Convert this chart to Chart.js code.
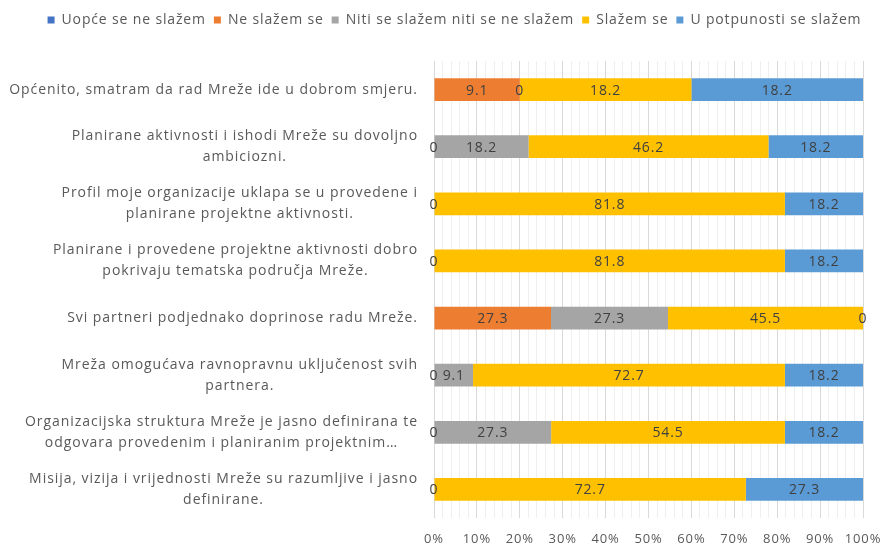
<!DOCTYPE html>
<html>
<head>
<meta charset="utf-8">
<script src="https://cdn.jsdelivr.net/npm/chart.js@4/dist/chart.umd.min.js"></script>
<style>
    html, body { margin: 0; padding: 0; background: #fff; }
    #wrap { width: 885px; height: 548px; }
</style>
</head>
<body>
<div id="wrap"><canvas id="surveyChart"></canvas></div>
<script>
// --- Data ---
const questions = [
    ['Općenito, smatram da rad Mreže ide u dobrom smjeru.'],
    ['Planirane aktivnosti i ishodi Mreže su dovoljno', 'ambiciozni.'],
    ['Profil moje organizacije uklapa se u provedene i', 'planirane projektne aktivnosti.'],
    ['Planirane i provedene projektne aktivnosti dobro', 'pokrivaju tematska područja Mreže.'],
    ['Svi partneri podjednako doprinose radu Mreže.'],
    ['Mreža omogućava ravnopravnu uključenost svih', 'partnera.'],
    ['Organizacijska struktura Mreže je jasno definirana te', 'odgovara provedenim i planiranim projektnim…'],
    ['Misija, vizija i vrijednosti Mreže su razumljive i jasno', 'definirane.']
];
const answerNames = ['Uopće se ne slažem', 'Ne slažem se', 'Niti se slažem niti se ne slažem', 'Slažem se', 'U potpunosti se slažem'];
const uopceSeNeSlazem = [null, 0, 0, 0, null, 0, 0, 0];
const neSlazemSe = [9.1, null, null, null, 27.3, null, null, null];
const nitiNiti = [0, 18.2, null, null, 27.3, 9.1, 27.3, null];
const slazemSe = [18.2, 46.2, 81.8, 81.8, 45.5, 72.7, 54.5, 72.7];
const uPotpunosti = [18.2, 18.2, 18.2, 18.2, 0, 18.2, 18.2, 27.3];
const colors = ['#4472C4', '#ED7D31', '#A5A5A5', '#FFC000', '#5B9BD5'];
const xTicks = [0, 10, 20, 30, 40, 50, 60, 70, 80, 90, 100];

(function () {
    const FONT = '"Open Sans", sans-serif';
    const SPACING = '0.85px';
    const series = [uopceSeNeSlazem, neSlazemSe, nitiNiti, slazemSe, uPotpunosti];

    // 100% stacked: each row is scaled to its own total
    const rowTotals = questions.map((q, i) => series.reduce((s, arr) => s + (arr[i] || 0), 0));
    function toPercent(arr) {
        return arr.map((v, i) => (v == null ? null : v / rowTotals[i] * 100));
    }

    const datasets = series.map((arr, k) => ({
        label: answerNames[k],
        data: toPercent(arr),
        raw: arr,
        backgroundColor: colors[k],
        borderWidth: 0,
        barPercentage: 0.4,
        categoryPercentage: 1
    }));

    // --- Plugins ---
    // Excel-like loose text: spacing has to be set before measuring and before drawing
    const letterSpacing = {
        id: 'letterSpacing',
        beforeLayout(chart) { chart.ctx.letterSpacing = SPACING; },
        beforeDraw(chart) { chart.ctx.letterSpacing = SPACING; }
    };

    const valueLabels = {
        id: 'valueLabels',
        afterDatasetsDraw(chart) {
            const ctx = chart.ctx;
            ctx.save();
            ctx.font = '14px ' + FONT;
            ctx.fillStyle = '#404040';
            ctx.textAlign = 'center';
            ctx.textBaseline = 'middle';
            chart.data.datasets.forEach((ds, k) => {
                const meta = chart.getDatasetMeta(k);
                meta.data.forEach((bar, i) => {
                    const v = ds.raw[i];
                    if (v == null) return;
                    ctx.fillText(String(v), (bar.x + bar.base) / 2, bar.y + 1);
                });
            });
            ctx.restore();
        }
    };

    const questionLabels = {
        id: 'questionLabels',
        afterDraw(chart) {
            const ctx = chart.ctx;
            const yScale = chart.scales.y;
            const right = chart.chartArea.left - 16;
            ctx.save();
            ctx.font = '14px ' + FONT;
            ctx.letterSpacing = '0.95px';
            ctx.fillStyle = '#595959';
            ctx.textAlign = 'center';
            ctx.textBaseline = 'middle';
            questions.forEach((lines, i) => {
                const y = yScale.getPixelForValue(i);
                const w = Math.max(...lines.map(l => ctx.measureText(l).width));
                const cx = right - w / 2;
                lines.forEach((line, j) => {
                    ctx.fillText(line, cx, y + (j - (lines.length - 1) / 2) * 21);
                });
            });
            ctx.restore();
        }
    };

    // --- Chart ---
    new Chart(document.getElementById('surveyChart'), {
        type: 'bar',
        data: { labels: questions.map(q => q.join(' ')), datasets },
        options: {
            indexAxis: 'y',
            responsive: true,
            maintainAspectRatio: false,
            animation: false,
            layout: { padding: { top: 5, right: 0, bottom: 1, left: 24 } },
            plugins: {
                tooltip: { enabled: false },
                legend: {
                    position: 'top',
                    labels: {
                        boxWidth: 7,
                        boxHeight: 7,
                        padding: 8,
                        color: '#595959',
                        font: { family: FONT, size: 14 }
                    }
                }
            },
            scales: {
                x: {
                    stacked: true,
                    min: 0,
                    max: 100,
                    border: { display: false },
                    grid: {
                        drawTicks: false,
                        color: c => (xTicks.includes(c.tick.value) ? '#D9D9D9' : '#EFEFEF')
                    },
                    ticks: {
                        stepSize: 2,
                        autoSkip: false,
                        maxRotation: 0,
                        padding: 13,
                        color: '#595959',
                        font: { family: FONT, size: 13 },
                        callback: v => (xTicks.includes(v) ? v + '%' : '')
                    },
                    afterFit: s => { s.height = 29; s.paddingRight = 22; }
                },
                spacer: {
                    type: 'linear',
                    position: 'top',
                    display: true,
                    grid: { display: false },
                    border: { display: false },
                    ticks: { display: false },
                    afterFit: s => { s.height = 24; }
                },
                y: {
                    stacked: true,
                    grid: { display: false },
                    border: { display: false },
                    ticks: { display: false },
                    afterFit: s => { s.width = 410; }
                }
            }
        },
        plugins: [letterSpacing, valueLabels, questionLabels]
    });
})();
</script>
</body>
</html>
